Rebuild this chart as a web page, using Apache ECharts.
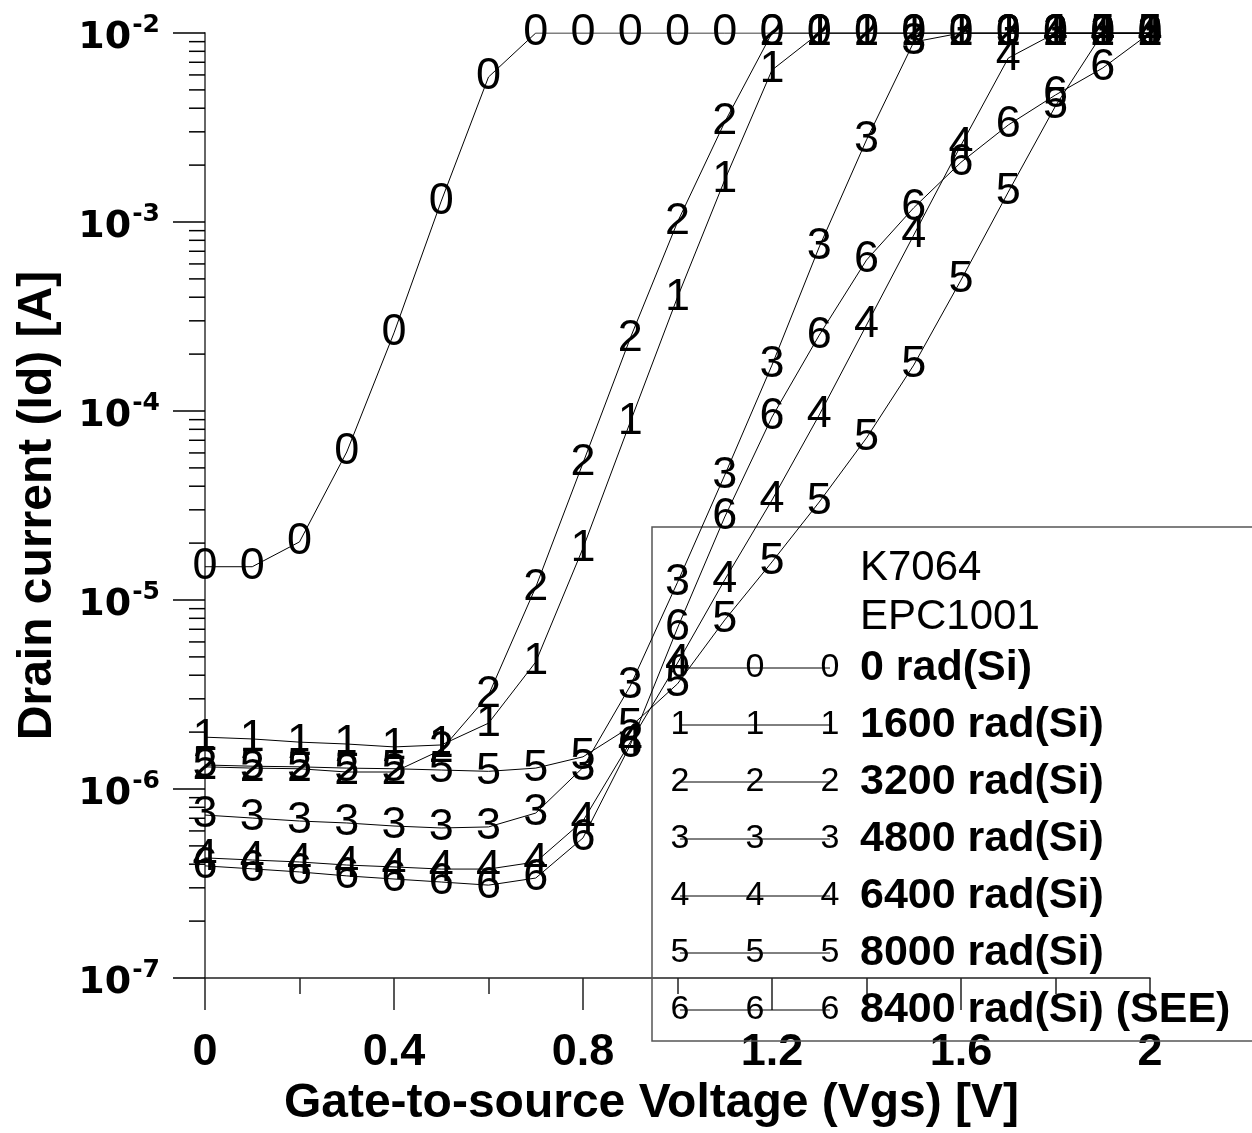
<!DOCTYPE html>
<html>
<head>
<meta charset="utf-8">
<script src="https://cdn.jsdelivr.net/npm/echarts@6/dist/echarts.min.js"></script>
<style>html,body{margin:0;padding:0;background:#fff;}#c{width:1252px;height:1133px;}</style>
</head>
<body>
<div id="c"></div>
<script>
// ---- data (drain current in A vs gate-source voltage in V) ----
const vgs = [0, 0.1, 0.2, 0.3, 0.4, 0.5, 0.6, 0.7, 0.8, 0.9, 1.0, 1.1, 1.2, 1.3, 1.4, 1.5, 1.6, 1.7, 1.8, 1.9, 2.0];
const seriesDigits = ['0', '1', '2', '3', '4', '5', '6'];
const legendLabels = ['0 rad(Si)', '1600 rad(Si)', '3200 rad(Si)', '4800 rad(Si)', '6400 rad(Si)', '8000 rad(Si)', '8400 rad(Si) (SEE)'];
const legendTitles = ['K7064', 'EPC1001'];
const id0 = [1.5e-5, 1.5e-5, 2.03e-5, 6.07e-5, 2.59e-4, 1.29e-3, 5.85e-3, 1e-2, 1e-2, 1e-2, 1e-2, 1e-2, 1e-2, 1e-2, 1e-2, 1e-2, 1e-2, 1e-2, 1e-2, 1e-2, 1e-2];
const id1600 = [1.88e-6, 1.84e-6, 1.77e-6, 1.73e-6, 1.67e-6, 1.71e-6, 2.23e-6, 4.7e-6, 1.88e-5, 8.75e-5, 4.0e-4, 1.67e-3, 6.37e-3, 1e-2, 1e-2, 1e-2, 1e-2, 1e-2, 1e-2, 1e-2, 1e-2];
const id3200 = [1.31e-6, 1.29e-6, 1.28e-6, 1.23e-6, 1.23e-6, 1.61e-6, 3.14e-6, 1.17e-5, 5.31e-5, 2.43e-4, 1.0e-3, 3.38e-3, 1e-2, 1e-2, 1e-2, 1e-2, 1e-2, 1e-2, 1e-2, 1e-2, 1e-2];
const id4800 = [7.28e-7, 7.02e-7, 6.77e-7, 6.61e-7, 6.37e-7, 6.22e-7, 6.3e-7, 7.46e-7, 1.3e-6, 3.51e-6, 1.24e-5, 4.58e-5, 1.75e-4, 7.38e-4, 2.72e-3, 8.96e-3, 1e-2, 1e-2, 1e-2, 1e-2, 1e-2];
const id6400 = [4.32e-7, 4.21e-7, 4.11e-7, 3.96e-7, 3.87e-7, 3.77e-7, 3.77e-7, 4.11e-7, 6.78e-7, 1.77e-6, 4.64e-6, 1.28e-5, 3.38e-5, 9.53e-5, 2.85e-4, 8.53e-4, 2.55e-3, 7.37e-3, 1e-2, 1e-2, 1e-2];
const id8000 = [1.34e-6, 1.32e-6, 1.31e-6, 1.29e-6, 1.28e-6, 1.26e-6, 1.24e-6, 1.29e-6, 1.48e-6, 2.13e-6, 3.6e-6, 7.84e-6, 1.59e-5, 3.3e-5, 7.2e-5, 1.75e-4, 4.93e-4, 1.44e-3, 4.11e-3, 1e-2, 1e-2];
const id8400 = [3.92e-7, 3.78e-7, 3.64e-7, 3.47e-7, 3.34e-7, 3.22e-7, 3.1e-7, 3.38e-7, 5.51e-7, 1.71e-6, 7.11e-6, 2.75e-5, 9.29e-5, 2.52e-4, 6.29e-4, 1.19e-3, 2.07e-3, 3.26e-3, 4.7e-3, 6.53e-3, 1e-2];
const allSeries = [id0, id1600, id3200, id4800, id6400, id8000, id8400];
// minor log tick positions (2..9 per decade)
const minorTicks = [];
for (let e = -7; e <= -3; e++) for (let m = 2; m <= 9; m++) minorTicks.push(m * Math.pow(10, e));

const chart = echarts.init(document.getElementById('c'), null, {renderer: 'canvas'});

const FONT = "'Liberation Sans', Arial, sans-serif";

const lineSeries = allSeries.map((arr, i) => ({
  type: 'line',
  name: legendLabels[i],
  data: vgs.map((x, k) => [x, arr[k]]),
  symbol: 'circle',
  symbolSize: 1,
  showAllSymbol: true,
  itemStyle: {color: 'rgba(0,0,0,0)'},
  lineStyle: {color: '#000', width: 1},
  label: {
    show: true, position: 'inside', formatter: seriesDigits[i],
    fontFamily: FONT, fontSize: 45, color: '#000'
  },
  emphasis: {disabled: true},
  z: 3
}));

const minorSeries = {
  type: 'custom',
  data: minorTicks.map(v => [0, v]),
  clip: false,
  silent: true,
  encode: {x: 0, y: 1},
  renderItem: function (params, api) {
    const p = api.coord([api.value(0), api.value(1)]);
    return {type: 'line', shape: {x1: p[0] - 16, y1: p[1], x2: p[0], y2: p[1]},
      style: {stroke: '#000', lineWidth: 1.5}};
  },
  z: 2
};

// legend graphics
const graphics = [];
graphics.push({type: 'rect', shape: {x: 652, y: 527, width: 640, height: 514},
  style: {fill: 'none', stroke: '#555', lineWidth: 1.5}, z: 1});
legendTitles.forEach((t, i) => {
  graphics.push({type: 'text', x: 860, y: 568 + 49 * i,
    style: {text: t, font: "42px " + FONT, fill: '#000', textVerticalAlign: 'middle', textAlign: 'left'}, z: 5});
});
legendLabels.forEach((t, i) => {
  const y = 668 + 57 * i;
  graphics.push({type: 'line', shape: {x1: 680, y1: y, x2: 830, y2: y}, style: {stroke: '#000', lineWidth: 1}, z: 4});
  [680, 755, 830].forEach(x => {
    graphics.push({type: 'text', x: x, y: y,
      style: {text: seriesDigits[i], font: "34px " + FONT, fill: '#000', textVerticalAlign: 'middle', textAlign: 'center'}, z: 5});
  });
  graphics.push({type: 'text', x: 860, y: y,
    style: {text: t, font: "bold 43px " + FONT, fill: '#000', textVerticalAlign: 'middle', textAlign: 'left'}, z: 5});
});

chart.setOption({
  animation: false,
  backgroundColor: '#fff',
  grid: {left: 205, top: 33, right: 102, bottom: 155, containLabel: false},
  xAxis: {
    type: 'value', min: 0, max: 2, interval: 0.4,
    splitLine: {show: false},
    axisLine: {show: true, lineStyle: {color: '#222', width: 1.5}},
    axisTick: {show: true, inside: false, length: 32, lineStyle: {color: '#222', width: 1.5}},
    minorTick: {show: true, splitNumber: 2, length: 16, lineStyle: {color: '#222', width: 1.5}},
    axisLabel: {margin: 52, fontFamily: FONT, fontWeight: 'bold', fontSize: 45, color: '#000'},
    name: 'Gate-to-source Voltage (Vgs) [V]',
    nameLocation: 'middle', nameGap: 94,
    nameTextStyle: {fontFamily: FONT, fontWeight: 'bold', fontSize: 48, color: '#000', padding: [0, 52, 0, 0]}
  },
  yAxis: {
    type: 'log', logBase: 10, min: 1e-7, max: 1e-2,
    splitLine: {show: false},
    axisLine: {show: true, lineStyle: {color: '#666', width: 2}},
    axisTick: {show: true, inside: false, length: 32, lineStyle: {color: '#000', width: 1.5}},
    axisLabel: {
      margin: 45,
      formatter: function (v) { return '{b|10}{s|' + Math.round(Math.log10(v)) + '}'; },
      rich: {
        b: {fontFamily: "'DejaVu Sans', sans-serif", fontWeight: 'bold', fontSize: 38, color: '#000', padding: [10, 0, 0, 0]},
        s: {fontFamily: "'DejaVu Sans', sans-serif", fontWeight: 'bold', fontSize: 25, color: '#000', padding: [0, 0, 16, 1]}
      }
    },
    name: 'Drain current (Id) [A]',
    nameLocation: 'middle', nameGap: 143, nameRotate: 90,
    nameTextStyle: {fontFamily: FONT, fontWeight: 'bold', fontSize: 48, color: '#000'}
  },
  graphic: graphics,
  series: lineSeries.concat([minorSeries])
});
</script>
</body>
</html>
